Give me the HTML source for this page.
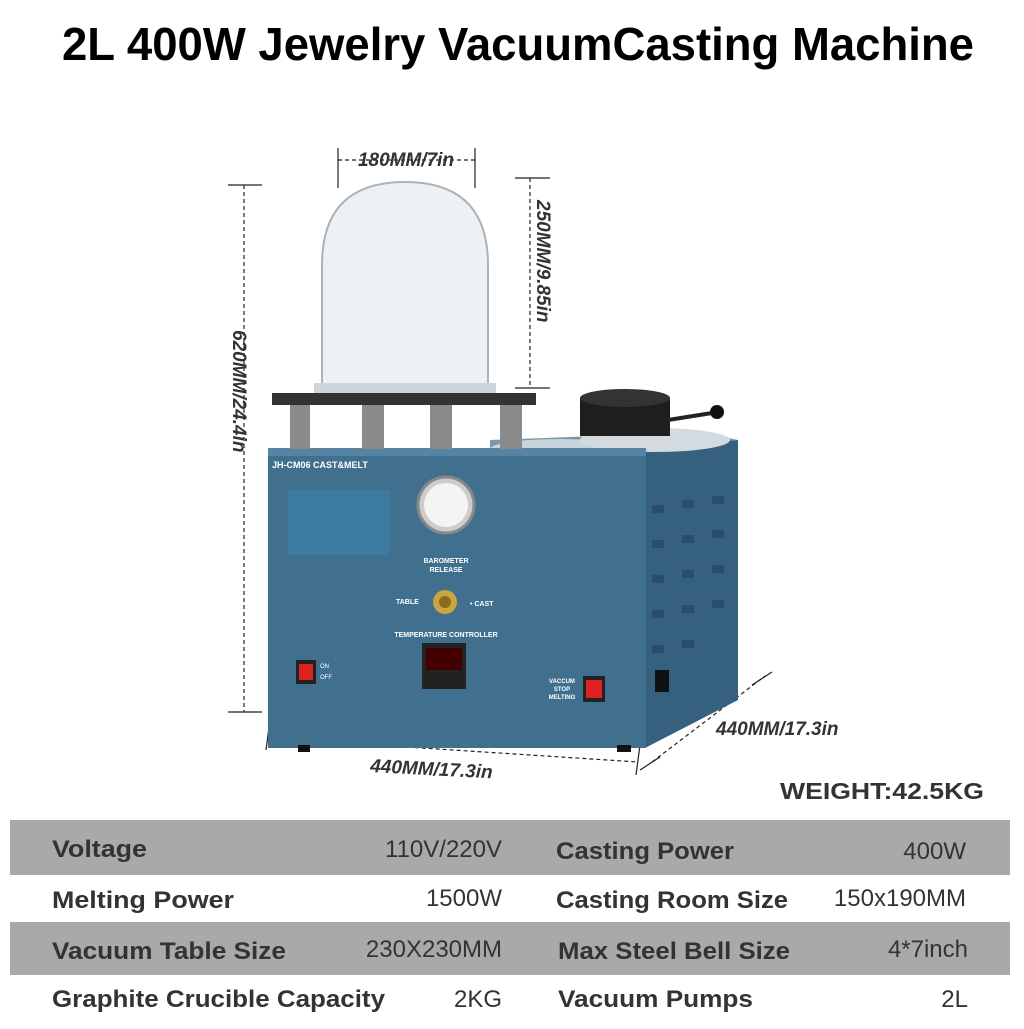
<!DOCTYPE html>
<html><head><meta charset="utf-8"><style>
body{margin:0;background:#fff;width:1024px;height:1024px;overflow:hidden;font-family:"Liberation Sans",sans-serif}
</style></head><body>
<svg width="1024" height="1024" viewBox="0 0 1024 1024" xmlns="http://www.w3.org/2000/svg" font-family="Liberation Sans, sans-serif">
<rect width="1024" height="1024" fill="#fff"/>
<text x="62" y="60" font-size="46" font-weight="bold" fill="#000" textLength="912" lengthAdjust="spacingAndGlyphs">2L 400W Jewelry VacuumCasting Machine</text>

<!-- dimension lines -->
<g stroke="#222" stroke-width="1.2" fill="none">
<line x1="338" y1="148" x2="338" y2="188"/><line x1="475" y1="148" x2="475" y2="188"/>
<line x1="338" y1="160" x2="475" y2="160" stroke-dasharray="4 3"/>
<line x1="515" y1="178" x2="550" y2="178"/><line x1="515" y1="388" x2="550" y2="388"/>
<line x1="530" y1="178" x2="530" y2="388" stroke-dasharray="4 3"/>
<line x1="228" y1="185" x2="262" y2="185"/><line x1="228" y1="712" x2="262" y2="712"/>
<line x1="244" y1="185" x2="244" y2="712" stroke-dasharray="4 3"/>
<line x1="270" y1="720" x2="266" y2="750"/><line x1="640" y1="745" x2="636" y2="775"/>
<line x1="268" y1="738" x2="638" y2="762" stroke-dasharray="4 3"/>
<line x1="660" y1="757" x2="640" y2="770"/><line x1="772" y1="672" x2="752" y2="685"/>
<line x1="652" y1="762" x2="765" y2="676" stroke-dasharray="4 3"/>
</g>
<text x="406" y="166" text-anchor="middle" font-size="19" font-weight="bold" font-style="italic" fill="#333">180MM/7in</text>
<text transform="translate(537,200) rotate(90)" font-size="19" font-weight="bold" font-style="italic" fill="#333">250MM/9.85in</text>
<text transform="translate(233,330) rotate(90)" font-size="19" font-weight="bold" font-style="italic" fill="#333">620MM/24.4in</text>
<text transform="translate(370,772) rotate(3)" font-size="19" font-weight="bold" font-style="italic" fill="#333">440MM/17.3in</text>
<text x="716" y="735" font-size="19" font-weight="bold" font-style="italic" fill="#333">440MM/17.3in</text>
<text x="780" y="799" font-size="23" font-weight="bold" fill="#333" textLength="204" lengthAdjust="spacingAndGlyphs">WEIGHT:42.5KG</text>

<!-- machine right side -->
<polygon points="645,448 738,440 738,700 645,748" fill="#35607e"/>
<g fill="#2a4e68">
<rect x="652" y="505" width="12" height="8"/><rect x="682" y="500" width="12" height="8"/><rect x="712" y="496" width="12" height="8"/>
<rect x="652" y="540" width="12" height="8"/><rect x="682" y="535" width="12" height="8"/><rect x="712" y="530" width="12" height="8"/>
<rect x="652" y="575" width="12" height="8"/><rect x="682" y="570" width="12" height="8"/><rect x="712" y="565" width="12" height="8"/>
<rect x="652" y="610" width="12" height="8"/><rect x="682" y="605" width="12" height="8"/><rect x="712" y="600" width="12" height="8"/>
<rect x="652" y="645" width="12" height="8"/><rect x="682" y="640" width="12" height="8"/>
</g>
<rect x="655" y="670" width="14" height="22" fill="#111"/>
<polygon points="490,448 645,448 738,440 700,432 490,440" fill="#7d97a8"/>
<ellipse cx="560" cy="449" rx="70" ry="10" fill="#c9d3da"/>
<ellipse cx="655" cy="440" rx="75" ry="12" fill="#d3dbe0"/>
<rect x="580" y="398" width="90" height="38" fill="#1e1e1e"/>
<ellipse cx="625" cy="398" rx="45" ry="9" fill="#333"/>
<line x1="668" y1="420" x2="712" y2="413" stroke="#222" stroke-width="4"/><circle cx="717" cy="412" r="7" fill="#111"/>
<!-- front -->
<rect x="268" y="448" width="378" height="300" fill="#41708f"/>
<rect x="268" y="448" width="378" height="8" fill="#5684a2"/>
<text x="272" y="468" font-size="9" font-weight="bold" fill="#fff">JH-CM06 CAST&amp;MELT</text>
<rect x="288" y="490" width="102" height="65" fill="#3d7aa0"/>
<circle cx="446" cy="505" r="28" fill="#ccc" stroke="#888" stroke-width="3"/><circle cx="446" cy="505" r="22" fill="#f4f4f4"/>
<text x="446" y="563" text-anchor="middle" font-size="7" font-weight="bold" fill="#fff">BAROMETER</text>
<text x="446" y="572" text-anchor="middle" font-size="7" font-weight="bold" fill="#fff">RELEASE</text>
<text x="396" y="604" font-size="7" font-weight="bold" fill="#fff">TABLE</text>
<text x="470" y="606" font-size="7" font-weight="bold" fill="#fff">• CAST</text>
<circle cx="445" cy="602" r="12" fill="#c9a640"/><circle cx="445" cy="602" r="6" fill="#8a6b20"/>
<text x="446" y="637" text-anchor="middle" font-size="7" font-weight="bold" fill="#fff">TEMPERATURE CONTROLLER</text>
<rect x="422" y="643" width="44" height="46" fill="#222"/><rect x="426" y="648" width="36" height="22" fill="#400"/>
<rect x="296" y="660" width="20" height="24" fill="#222"/><rect x="299" y="664" width="14" height="16" fill="#d22"/>
<text x="320" y="668" font-size="6" fill="#fff">ON</text><text x="320" y="679" font-size="6" fill="#fff">OFF</text>
<text x="562" y="683" text-anchor="middle" font-size="6" font-weight="bold" fill="#fff">VACCUM</text>
<text x="562" y="691" text-anchor="middle" font-size="6" font-weight="bold" fill="#fff">STOP</text>
<text x="562" y="699" text-anchor="middle" font-size="6" font-weight="bold" fill="#fff">MELTING</text>
<rect x="583" y="676" width="22" height="26" fill="#222"/><rect x="586" y="680" width="16" height="18" fill="#d22"/>
<rect x="298" y="745" width="12" height="7" fill="#111"/><rect x="617" y="745" width="14" height="7" fill="#111"/>
<g fill="#8a8a8a"><rect x="290" y="405" width="20" height="44"/><rect x="362" y="405" width="22" height="44"/><rect x="430" y="405" width="22" height="44"/><rect x="500" y="405" width="22" height="44"/></g>
<rect x="272" y="393" width="264" height="12" fill="#333"/>
<path d="M322 390 L322 265 Q322 182 405 182 Q488 182 488 265 L488 390 Z" fill="#eef1f3" stroke="#a9b3ba" stroke-width="2"/>
<rect x="314" y="383" width="182" height="10" fill="#cfd6da"/>

<!-- table -->
<rect x="10" y="820" width="1000" height="55" fill="#a9a9a9"/>
<rect x="10" y="922" width="1000" height="53" fill="#a9a9a9"/>
<g font-size="24" fill="#333">
<text x="52" y="857" font-weight="bold" textLength="95" lengthAdjust="spacingAndGlyphs">Voltage</text><text x="502" y="857" text-anchor="end">110V/220V</text>
<text x="556" y="859" font-weight="bold" textLength="178" lengthAdjust="spacingAndGlyphs">Casting Power</text><text x="966" y="859" text-anchor="end">400W</text>
<text x="52" y="908" font-weight="bold" textLength="182" lengthAdjust="spacingAndGlyphs">Melting Power</text><text x="502" y="906" text-anchor="end">1500W</text>
<text x="556" y="908" font-weight="bold" textLength="232" lengthAdjust="spacingAndGlyphs">Casting Room Size</text><text x="966" y="906" text-anchor="end">150x190MM</text>
<text x="52" y="959" font-weight="bold" textLength="234" lengthAdjust="spacingAndGlyphs">Vacuum Table Size</text><text x="502" y="957" text-anchor="end">230X230MM</text>
<text x="558" y="959" font-weight="bold" textLength="232" lengthAdjust="spacingAndGlyphs">Max Steel Bell Size</text><text x="968" y="957" text-anchor="end">4*7inch</text>
<text x="52" y="1007" font-weight="bold" textLength="333" lengthAdjust="spacingAndGlyphs">Graphite Crucible Capacity</text><text x="502" y="1007" text-anchor="end">2KG</text>
<text x="558" y="1007" font-weight="bold" textLength="195" lengthAdjust="spacingAndGlyphs">Vacuum Pumps</text><text x="968" y="1007" text-anchor="end">2L</text>
</g>
</svg>
</body></html>
